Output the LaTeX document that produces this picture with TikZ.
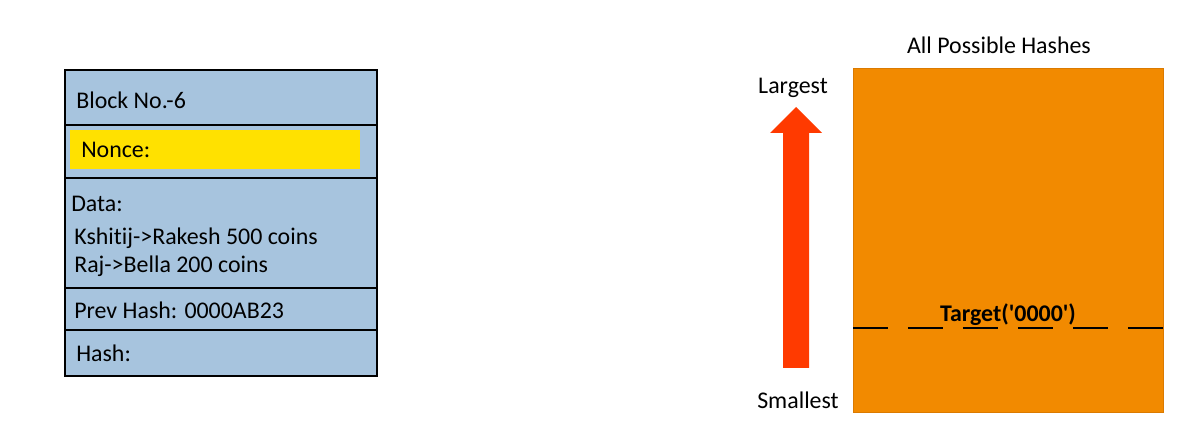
\documentclass[tikz,border=0pt]{standalone}
\usepackage{fontspec}
\setmainfont{Carlito}[Ligatures=NoCommon]
\usetikzlibrary{positioning}

\definecolor{blockblue}{HTML}{A7C4DE}
\definecolor{nonceyellow}{HTML}{FFE100}
\definecolor{hashorange}{HTML}{F28A00}
\definecolor{hashedge}{HTML}{DB7A00}
\definecolor{arrowred}{HTML}{FF3A00}

\tikzset{
    row/.style={draw=black,line width=1.1pt,fill=blockblue,minimum width=7.8cm,
        anchor=north west,inner sep=0pt},
    txt/.style={anchor=west,inner sep=0pt,font=\fontsize{17}{20}\selectfont},
}

\begin{document}
\begin{tikzpicture}[x=0.025cm,y=-0.025cm]
    \useasboundingbox (0,0) rectangle (1193,438);

    % the block
    \node[row,minimum height=1.375cm] (head)  at (64,69)  {};
    \node[row,minimum height=1.325cm] (nonce) at (64,124) {};
    \node[row,minimum height=2.75cm]  (data)  at (64,177) {};
    \node[row,minimum height=1.05cm]  (prev)  at (64,287) {};
    \node[row,minimum height=1.15cm]  (hash)  at (64,329) {};
    \fill[nonceyellow] (70,130) rectangle (360,169);

    \node[txt] (headtxt)  at (76,100)  {Block No.-6};
    \node[txt] (noncetxt) at (81,150)  {Nonce:};
    \node[txt] (datatxt)  at (71,204)  {Data:};
    \node[txt] (tx1)      at (74,238)  {Kshitij->Rakesh 500 coins};
    \node[txt] (tx2)      at (74,266)  {Raj->Bella 200 coins};
    \node[txt] (prevtxt)  at (74,310)  {Prev Hash: 0000AB23};
    \node[txt] (hashtxt)  at (76,353)  {Hash:};

    % the hash space
    \node[draw=hashedge,line width=1pt,fill=hashorange,anchor=north west,
        minimum width=7.75cm,minimum height=8.6cm,inner sep=0pt] (space) at (853,68) {};
    \node[txt,anchor=center] (title) at (999,45) {All Possible Hashes};
    \coordinate (tl) at (853,328);
    \coordinate (tr) at (1163,328);
    \draw[line width=1.4pt,dash pattern=on 24.9pt off 14.2pt] (tl) -- (tr);
    \node[txt,anchor=center,font=\fontsize{17}{20}\selectfont\bfseries] (target) at (1008,315)
        {Target(\textquotesingle0000\textquotesingle)};

    \fill[arrowred] (783,368) -- (783,133) -- (770,133) -- (796,107)
        -- (822,133) -- (809,133) -- (809,368) -- cycle;
    \node[txt,anchor=center] (large) at (793,88)  {Largest};
    \node[txt,anchor=center] (small) at (798,400) {Smallest};
\end{tikzpicture}
\end{document}
